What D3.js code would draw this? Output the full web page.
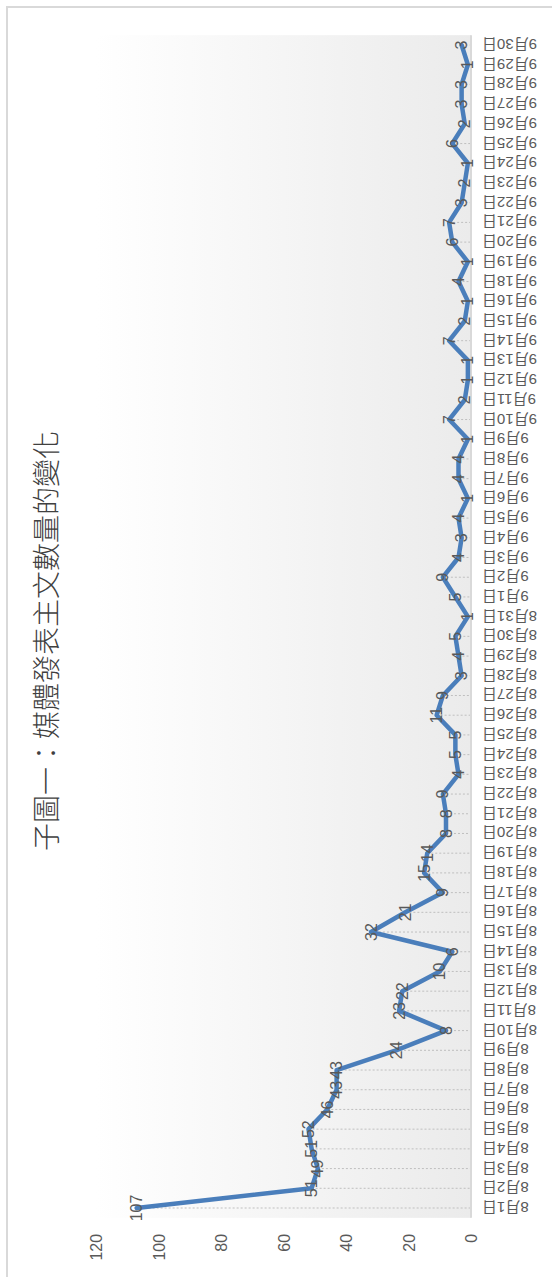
<!DOCTYPE html>
<html>
<head>
<meta charset="utf-8">
<script src="https://cdn.jsdelivr.net/npm/d3@7"></script>
<style>
  html, body { margin: 0; padding: 0; background: #ffffff; }
  svg { display: block; }
</style>
</head>
<body>
<svg id="chart" width="552" height="1277"></svg>
<script>
// ---- data ----
const title = "子圖一：媒體發表主文數量的變化";
const categories = [
  "8月1日","8月2日","8月3日","8月4日","8月5日","8月6日","8月7日","8月8日","8月9日","8月10日",
  "8月11日","8月12日","8月13日","8月14日","8月15日","8月16日","8月17日","8月18日","8月19日","8月20日",
  "8月21日","8月22日","8月23日","8月24日","8月25日","8月26日","8月27日","8月28日","8月29日","8月30日",
  "8月31日","9月1日","9月2日","9月3日","9月4日","9月5日","9月6日","9月7日","9月8日","9月9日",
  "9月10日","9月11日","9月12日","9月13日","9月14日","9月15日","9月16日","9月18日","9月19日","9月20日",
  "9月21日","9月22日","9月23日","9月24日","9月25日","9月26日","9月27日","9月28日","9月29日","9月30日"
];
const values = [
  107, 51, 49, 51, 52, 46, 43, 43, 24, 8,
  23, 22, 10, 6, 32, 21, 9, 15, 14, 8,
  8, 9, 4, 5, 5, 11, 9, 3, 4, 5,
  1, 5, 9, 4, 3, 4, 1, 4, 4, 1,
  7, 2, 1, 1, 7, 2, 1, 4, 1, 6,
  7, 3, 2, 1, 6, 2, 3, 3, 1, 3
];
const valueTicks = [0, 20, 40, 60, 80, 100, 120];

// ---- layout (chart drawn in landscape, then rotated -90deg onto the page) ----
const W = 1277, H = 552;
const svg = d3.select("#chart");
const defs = svg.append("defs");
const grad = defs.append("linearGradient")
  .attr("id", "plotGrad").attr("x1", 0).attr("y1", 0).attr("x2", 0).attr("y2", 1);
grad.append("stop").attr("offset", "0%").attr("stop-color", "#ffffff");
grad.append("stop").attr("offset", "100%").attr("stop-color", "#ebebeb");

const g = svg.append("g").attr("transform", `translate(0,${W}) rotate(-90)`);

// chart border (partially outside the picture, like the reference crop)
g.append("rect")
  .attr("x", -20).attr("y", 7).attr("width", 1270 + 20).attr("height", 600)
  .attr("fill", "none").attr("stroke", "#d9d9d9").attr("stroke-width", 2);

const x = d3.scalePoint().domain(categories).range([69, 1232]);
const step = x.step();
const y = d3.scaleLinear().domain([0, 120]).range([471, 96]);

// plot area background
g.append("rect")
  .attr("x", x.range()[0] - step / 2).attr("y", y(120))
  .attr("width", (x.range()[1] - x.range()[0]) + step)
  .attr("height", y(0) - y(120))
  .attr("fill", "url(#plotGrad)");

// title
g.append("text")
  .attr("x", 636).attr("y", 45)
  .attr("text-anchor", "middle").attr("dominant-baseline", "central")
  .attr("font-family", "'Noto Sans CJK TC', 'Noto Sans CJK SC', sans-serif")
  .attr("font-size", 28).attr("font-weight", 300)
  .attr("fill", "#404040")
  .text(title);

// drop lines
g.append("g").selectAll("line")
  .data(categories)
  .join("line")
  .attr("x1", (d) => x(d)).attr("x2", (d) => x(d))
  .attr("y1", (d, i) => y(values[i])).attr("y2", y(0))
  .attr("stroke", "#bfbfbf").attr("stroke-width", 1)
  .attr("stroke-dasharray", "2,2");

// value axis
const yAxis = g.append("g")
  .attr("transform", `translate(${x.range()[0] - step / 2},0)`)
  .call(d3.axisLeft(y).tickValues(valueTicks).tickSize(0).tickPadding(16));
yAxis.select(".domain").remove();
yAxis.selectAll("text")
  .attr("font-family", "'Liberation Sans', Arial, sans-serif")
  .attr("font-size", 16).attr("fill", "#595959")
  .attr("dy", null).attr("dominant-baseline", "central");

// category axis
const xAxis = g.append("g")
  .attr("transform", `translate(0,${y(0)})`)
  .call(d3.axisBottom(x).tickSize(0).tickPadding(0));
xAxis.select(".domain")
  .attr("d", `M${x.range()[0] - step / 2},0H${x.range()[1] + step / 2}`)
  .attr("stroke", "#d9d9d9").attr("stroke-width", 2);
xAxis.selectAll(".tick text")
  .attr("font-family", "'Liberation Sans', 'Noto Sans CJK TC', sans-serif")
  .attr("font-size", 15).attr("fill", "#595959")
  .attr("text-anchor", "end")
  .attr("dominant-baseline", "central")
  .attr("dy", null).attr("y", 0)
  .attr("transform", "translate(0,11) rotate(-90)");

// line
const line = d3.line().x((d, i) => x(categories[i])).y((d) => y(d));
g.append("path")
  .datum(values)
  .attr("d", line)
  .attr("fill", "none")
  .attr("stroke", "#4a7ebb").attr("stroke-width", 4.5)
  .attr("stroke-linejoin", "round").attr("stroke-linecap", "round");

// data labels (centered on points)
g.append("g").selectAll("text")
  .data(values)
  .join("text")
  .attr("x", (d, i) => x(categories[i]))
  .attr("y", (d) => y(d))
  .attr("text-anchor", "middle").attr("dominant-baseline", "central")
  .attr("font-family", "'Liberation Sans', Arial, sans-serif")
  .attr("font-size", 16).attr("fill", "#595959")
  .text((d) => d);
</script>
</body>
</html>
